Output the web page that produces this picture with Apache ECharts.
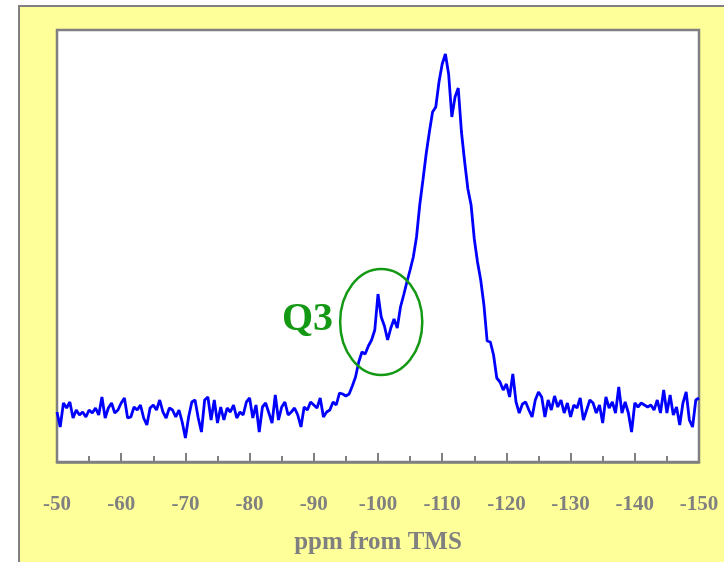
<!DOCTYPE html>
<html>
<head>
<meta charset="utf-8">
<script src="https://cdn.jsdelivr.net/npm/echarts@6/dist/echarts.min.js"></script>
<style>
html,body{margin:0;padding:0;background:#ffffff;}
#chart{width:724px;height:562px;}
</style>
</head>
<body>
<div id="chart"></div>
<script>
// Chemical shift (ppm from TMS)
var shifts = [
 -50,-50.5,-51,-51.5,-52,-52.5,-53,-53.5,-54,-54.5,-55,-55.5,-56,-56.5,-57,-57.5,-58,-58.5,-59,-59.5,
 -60,-60.5,-61,-61.5,-62,-62.5,-63,-63.5,-64,-64.5,-65,-65.5,-66,-66.5,-67,-67.5,-68,-68.5,-69,-69.5,
 -70,-70.5,-71,-71.5,-72,-72.5,-73,-73.5,-74,-74.5,-75,-75.5,-76,-76.5,-77,-77.5,-78,-78.5,-79,-79.5,
 -80,-80.5,-81,-81.5,-82,-82.5,-83,-83.5,-84,-84.5,-85,-85.5,-86,-86.5,-87,-87.5,-88,-88.5,-89,-89.5,
 -90,-90.5,-91,-91.5,-92,-92.5,-93,-93.5,-94,-94.5,-95,-95.5,-96,-96.5,-97,-97.5,-98,-98.5,-99,-99.5,
 -100,-100.5,-101,-101.5,-102,-102.5,-103,-103.5,-104,-104.5,-105,-105.5,-106,-106.5,-107,-107.5,-108,-108.5,-109,-109.5,
 -110,-110.5,-111,-111.5,-112,-112.5,-113,-113.5,-114,-114.5,-115,-115.5,-116,-116.5,-117,-117.5,-118,-118.5,-119,-119.5,
 -120,-120.5,-121,-121.5,-122,-122.5,-123,-123.5,-124,-124.5,-125,-125.5,-126,-126.5,-127,-127.5,-128,-128.5,-129,-129.5,
 -130,-130.5,-131,-131.5,-132,-132.5,-133,-133.5,-134,-134.5,-135,-135.5,-136,-136.5,-137,-137.5,-138,-138.5,-139,-139.5,
 -140,-140.5,-141,-141.5,-142,-142.5,-143,-143.5,-144,-144.5,-145,-145.5,-146,-146.5,-147,-147.5,-148,-148.5,-149,-149.5,
 -150
];
// Signal intensity (arbitrary units)
var intensity = [
 50,35,59,54,60,44,52,47,50,45,52,49,54,47,65,44,54,59,49,52,
 59,64,44,45,55,52,57,44,37,54,57,52,62,50,44,54,52,45,52,40,
 24,45,60,62,44,30,62,65,42,62,39,55,42,54,50,57,44,50,47,60,
 64,44,57,30,55,59,49,39,67,42,55,60,47,50,54,47,35,55,52,60,
 57,54,64,45,50,52,60,57,69,68,66,68,76,85,100,110,108,116,122,132,
 168,145,136,122,134,143,134,155,167,180,192,205,225,257,282,308,330,350,355,380,
 398,408,388,345,365,374,330,300,273,257,223,200,182,157,121,120,107,84,80,72,
 78,65,88,60,49,58,60,52,45,62,70,65,45,62,52,66,55,62,49,59,
 45,57,54,64,42,52,62,59,49,57,39,65,54,60,49,75,49,60,49,30,
 59,55,59,57,55,57,52,62,49,72,49,67,47,55,37,59,70,42,35,62,
 64
];
// Annotation
var annotLabel = 'Q3';
var annotCenter = [-100.5, 140];   // ellipse centre (ppm, intensity)
var annotRadius = [6.4, 53];       // ellipse half-width (ppm), half-height (intensity)
var annotTextAt = [-93, 142];      // right edge of label (ppm, intensity)

var chart = echarts.init(document.getElementById('chart'), null, {renderer:'canvas'});
var pts = shifts.map(function(s,i){return [s, intensity[i]];});
var grey = '#808080';
var serif = 'Liberation Serif';

chart.setOption({
  animation:false,
  backgroundColor:'#ffffff',
  grid:{left:57, right:25, top:30, bottom:100, show:true, backgroundColor:'#ffffff', borderColor:grey, borderWidth:2.5, containLabel:false},
  xAxis:{
    type:'value', min:-150, max:-50, interval:10, inverse:true,
    axisLine:{show:true, onZero:false, lineStyle:{color:grey, width:2.5}},
    axisTick:{show:true, inside:true, length:9, lineStyle:{color:grey, width:2}},
    minorTick:{show:true, splitNumber:2, length:6, lineStyle:{color:grey, width:2}},
    splitLine:{show:false},
    axisLabel:{color:grey, fontFamily:serif, fontWeight:'bold', fontSize:21, margin:32},
    name:'ppm from TMS', nameLocation:'middle', nameGap:68,
    nameTextStyle:{color:grey, fontFamily:serif, fontWeight:'bold', fontSize:25}
  },
  yAxis:{type:'value', min:0, max:432, show:false, splitLine:{show:false}},
  series:[{
    type:'line', data:pts, symbol:'none', showSymbol:false,
    lineStyle:{color:'#0000ff', width:2.8}, z:3
  }]
});

var c = chart.convertToPixel({gridIndex:0}, annotCenter);
var e = chart.convertToPixel({gridIndex:0}, [annotCenter[0]-annotRadius[0], annotCenter[1]+annotRadius[1]]);
var t = chart.convertToPixel({gridIndex:0}, annotTextAt);
chart.setOption({
  graphic:[
    {type:'rect', z:-100, silent:true, shape:{x:19, y:6, width:800, height:700},
     style:{fill:'#ffff99', stroke:grey, lineWidth:2}},
    {type:'ellipse', z:100, silent:true, shape:{cx:c[0], cy:c[1], rx:Math.abs(e[0]-c[0]), ry:Math.abs(c[1]-e[1])},
     style:{fill:null, stroke:'#149914', lineWidth:2.5}},
    {type:'text', z:100, silent:true, x:t[0], y:t[1],
     style:{text:annotLabel, fill:'#149914', font:'bold 40px "Liberation Serif"', align:'right', verticalAlign:'middle'}}
  ]
});
</script>
</body>
</html>
